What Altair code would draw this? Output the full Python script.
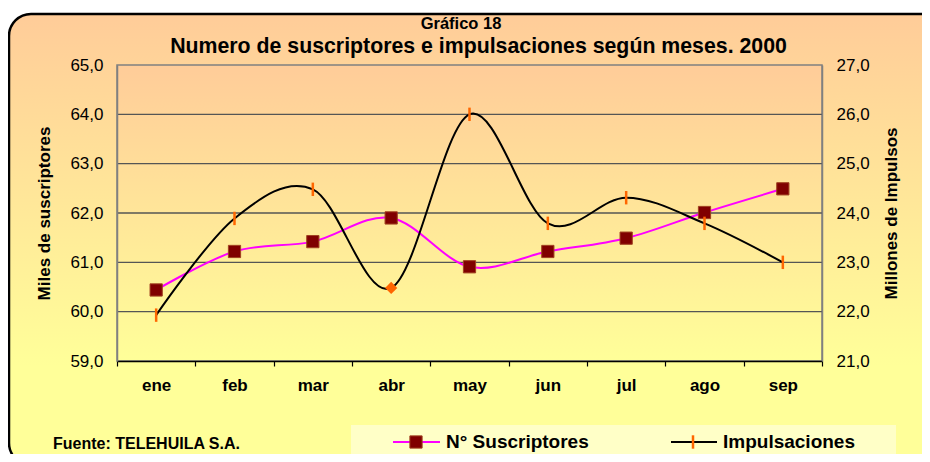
import altair as alt
import pandas as pd

# ---------------- data ----------------
meses = ["ene", "feb", "mar", "abr", "may", "jun", "jul", "ago", "sep"]
suscriptores = [60.44, 61.22, 61.42, 61.90, 60.91, 61.22, 61.49, 62.01, 62.49]
impulsaciones = [21.93, 23.89, 24.48, 22.48, 26.00, 23.79, 24.31, 23.79, 23.00]
left_ticks = [59, 60, 61, 62, 63, 64, 65]
right_ticks = [21, 22, 23, 24, 25, 26, 27]
grid_vals = [60, 61, 62, 63, 64]
mes_destacado = "abr"

titulo_1 = "Gráfico 18"
titulo_2 = "Numero de suscriptores e impulsaciones según meses. 2000"
fuente = "Fuente: TELEHUILA S.A."
serie_1 = "N° Suscriptores"
serie_2 = "Impulsaciones"

df = pd.DataFrame({"mes": meses, "sus": suscriptores, "imp": impulsaciones})
df_ticks = df[df["mes"] != mes_destacado]
df_diam = df[df["mes"] == mes_destacado]
one = pd.DataFrame({"a": [0]})

FONT = "Liberation Sans"
W, H = 705, 296
FMT = "replace(format(datum.value, '.1f'), '.', ',')"

xaxis = alt.Axis(title=None, labelFont=FONT, labelFontSize=17, labelFontWeight="bold",
                 labelColor="black", labelAngle=0, labelPadding=11, tickBand="extent",
                 tickColor="black", tickSize=5, tickWidth=1.2, domainColor="black",
                 domainWidth=1.5, grid=False, zindex=1)
xenc = alt.X("mes:N", sort=meses,
             scale=alt.Scale(type="band", domain=meses, paddingInner=0, paddingOuter=0),
             bandPosition=0.5, axis=xaxis)

yl_scale = alt.Scale(domain=[59, 65], nice=False, zero=False)
yr_scale = alt.Scale(domain=[21, 27], nice=False, zero=False)

yl_axis = alt.Axis(orient="left", values=left_ticks, labelExpr=FMT, title="Miles de suscriptores",
                   titleFont=FONT, titleFontSize=17, titleFontWeight="bold", titleColor="black",
                   titleAngle=-90, titleX=-73, titleY=H / 2, titleAlign="center",
                   titleBaseline="middle", labelFont=FONT, labelFontSize=17, labelColor="black",
                   labelPadding=14, labelFlush=False, ticks=False, tickSize=0, grid=False,
                   domainColor="#808080", domainWidth=1.5, zindex=1)
yr_axis = alt.Axis(orient="right", values=right_ticks, labelExpr=FMT, title="Millones de Impulsos",
                   titleFont=FONT, titleFontSize=17, titleFontWeight="bold", titleColor="black",
                   titleAngle=-90, titleX=69, titleY=H / 2, titleAlign="center",
                   titleBaseline="middle", labelFont=FONT, labelFontSize=17, labelColor="black",
                   labelPadding=14, labelFlush=False, ticks=False, tickSize=0, grid=False,
                   domainColor="#808080", domainWidth=1.5, zindex=1)

# ---------------- backgrounds ----------------
outer_grad = alt.Gradient(gradient="linear", x1=0, x2=0, y1=0, y2=1, stops=[
    alt.GradientStop(color="#FFCC99", offset=0),
    alt.GradientStop(color="#FFFF99", offset=0.78),
    alt.GradientStop(color="#FFFF99", offset=1)])
plot_grad = alt.Gradient(gradient="linear", x1=0, x2=0, y1=0, y2=1, stops=[
    alt.GradientStop(color="#FFCC99", offset=0),
    alt.GradientStop(color="#FFFF99", offset=1)])

outer = alt.Chart(one).mark_rect(fill=outer_grad, stroke="black", strokeWidth=2.5,
                                 cornerRadius=22).encode(
    x=alt.value(-108), x2=alt.value(830), y=alt.value(-51), y2=alt.value(400))
plotbg = alt.Chart(one).mark_rect(fill=plot_grad, stroke="#808080", strokeWidth=1.5).encode(
    x=alt.value(0), x2=alt.value(W), y=alt.value(0), y2=alt.value(H))

# ---------------- left series ----------------
grid = alt.Chart(pd.DataFrame({"g": grid_vals})).mark_rule(color="#555555", strokeWidth=1.3).encode(
    y=alt.Y("g:Q", scale=yl_scale, axis=yl_axis))
sus_line = alt.Chart(df).mark_line(color="#FF00FF", strokeWidth=2, interpolate="cardinal").encode(
    x=xenc, y=alt.Y("sus:Q", scale=yl_scale, axis=yl_axis))
sus_pts = alt.Chart(df).mark_point(shape="square", filled=True, fill="#800000", stroke="#A04020",
                                   strokeWidth=1, size=150, opacity=1).encode(
    x=xenc, y=alt.Y("sus:Q", scale=yl_scale, axis=yl_axis))
left = alt.layer(grid, sus_line, sus_pts)

# ---------------- right series ----------------
imp_line = alt.Chart(df).mark_line(color="black", strokeWidth=2, interpolate="cardinal").encode(
    x=xenc, y=alt.Y("imp:Q", scale=yr_scale, axis=yr_axis))
imp_ticks = alt.Chart(df_ticks).mark_point(shape="M0,-1L0,1", filled=False, stroke="#FF6600",
                                           strokeWidth=2.5, size=180, opacity=1).encode(
    x=xenc, y=alt.Y("imp:Q", scale=yr_scale, axis=yr_axis))
imp_diam = alt.Chart(df_diam).mark_point(shape="diamond", filled=True, fill="#FF6600",
                                         size=150, opacity=1).encode(
    x=xenc, y=alt.Y("imp:Q", scale=yr_scale, axis=yr_axis))
right = alt.layer(imp_line, imp_ticks, imp_diam)

# ---------------- texts & legend ----------------
def txt(s, x, y, size, align="center", baseline="alphabetic", weight="bold"):
    return alt.Chart(pd.DataFrame({"t": [s]})).mark_text(
        font=FONT, fontSize=size, fontWeight=weight, align=align, baseline=baseline,
        color="black").encode(x=alt.value(x), y=alt.value(y), text="t:N")

t1 = txt(titulo_1, 344, -36, 16.5)
t2 = txt(titulo_2, 361.5, -12, 21.3)
tf = txt(fuente, -64, 384, 16, align="left")

leg_box = alt.Chart(one).mark_rect(fill="#FFFFCC", opacity=0.9).encode(
    x=alt.value(234), x2=alt.value(779), y=alt.value(360), y2=alt.value(393))
leg_l1 = alt.Chart(one).mark_rule(color="#FF00FF", strokeWidth=2).encode(
    x=alt.value(276), x2=alt.value(323), y=alt.value(377))
leg_p1 = alt.Chart(one).mark_point(shape="square", filled=True, fill="#800000", stroke="#A04020",
                                   strokeWidth=1, size=150, opacity=1).encode(
    x=alt.value(299), y=alt.value(377))
leg_t1 = txt(serie_1, 329, 383, 19, align="left")
leg_l2 = alt.Chart(one).mark_rule(color="black", strokeWidth=2).encode(
    x=alt.value(554), x2=alt.value(600), y=alt.value(377))
leg_p2 = alt.Chart(one).mark_point(shape="M0,-1L0,1", filled=False, stroke="#FF6600",
                                   strokeWidth=2.5, size=180, opacity=1).encode(
    x=alt.value(576), y=alt.value(377))
leg_t2 = txt(serie_2, 606, 383, 19, align="left")

chart = alt.layer(
    outer, plotbg, left, right, t1, t2, tf,
    leg_box, leg_l1, leg_p1, leg_t1, leg_l2, leg_p2, leg_t2
).resolve_scale(y="independent").properties(
    width=W, height=H,
    padding={"left": 109, "top": 57, "right": 100, "bottom": 93},
    autosize=alt.AutoSizeParams(type="none"),
).configure_view(stroke=None).configure(background="white")

chart.save("out.html", embed_options={"renderer": "svg", "actions": False})
